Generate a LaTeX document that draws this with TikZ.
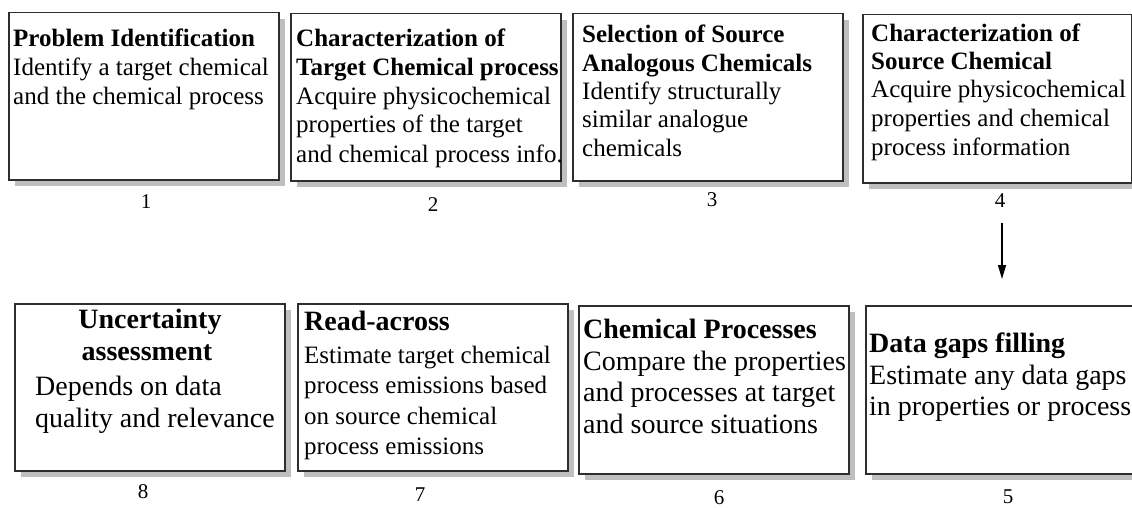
\documentclass[tikz,border=0pt]{standalone}
\usepackage{fontspec}
\setmainfont{Liberation Serif}
\usetikzlibrary{arrows.meta,shadows}
\begin{document}
\begin{tikzpicture}[x=1pt,y=-1pt,
  stepbox/.style={draw=black!82, line width=1.5pt, fill=white, anchor=north west,
    inner sep=0pt, minimum width=270pt, minimum height=167pt,
    drop shadow={shadow xshift=6pt, shadow yshift=-6pt, fill=black!25, opacity=1}},
  tsmall/.style={font=\fontsize{25}{29}\selectfont, anchor=base west, inner sep=0pt},
  bsmall/.style={font=\fontsize{25}{29}\selectfont\bfseries, anchor=base west, inner sep=0pt},
  tbig/.style={font=\fontsize{28}{32}\selectfont, anchor=base west, inner sep=0pt},
  bbig/.style={font=\fontsize{28}{32}\selectfont\bfseries, anchor=base west, inner sep=0pt},
  numlab/.style={font=\fontsize{21}{24}\selectfont, anchor=base, inner sep=0pt},
  flow/.style={line width=1.4pt, -{Triangle[length=14pt,width=8pt]}}]
\useasboundingbox (0,0) rectangle (1132,508);
\clip (0,0) rectangle (1132,508);

% top row boxes
\node[stepbox] (b1) at (8,12) {};
\node[stepbox] (b2) at (290,13) {};
\node[stepbox] (b3) at (572,13) {};
\node[stepbox, minimum width=269pt, minimum height=168pt] (b4) at (862,14) {};
% bottom row boxes
\node[stepbox] (b8) at (14,303) {};
\node[stepbox] (b7) at (297,303) {};
\node[stepbox, minimum height=168pt] (b6) at (578,305) {};
\node[stepbox, minimum height=168pt] (b5) at (865,305) {};

% box 1
\node[bsmall] (t1a) at (13,47) {Problem Identification};
\node[tsmall] (t1b) at (13,76) {Identify a target chemical};
\node[tsmall] (t1c) at (13,105) {and the chemical process};
% box 2
\node[bsmall] (t2a) at (296,47) {Characterization of};
\node[bsmall] (t2b) at (296,76) {Target Chemical process};
\node[tsmall] (t2c) at (296,105) {Acquire physicochemical};
\node[tsmall] (t2d) at (296,133) {properties of the target};
\node[tsmall] (t2e) at (296,162) {and chemical process info.};
% box 3
\node[bsmall] (t3a) at (582,43) {Selection of Source};
\node[bsmall] (t3b) at (582,72) {Analogous Chemicals};
\node[tsmall] (t3c) at (582,100) {Identify structurally};
\node[tsmall] (t3d) at (582,128) {similar analogue};
\node[tsmall] (t3e) at (582,157) {chemicals};
% box 4
\node[bsmall] (t4a) at (871,42) {Characterization of};
\node[bsmall] (t4b) at (871,70) {Source Chemical};
\node[tsmall] (t4c) at (871,98) {Acquire physicochemical};
\node[tsmall] (t4d) at (871,127) {properties and chemical};
\node[tsmall] (t4e) at (871,155) {process information};

% box 8
\node[bbig, anchor=base] (t8a) at (150,328) {Uncertainty};
\node[bbig, anchor=base] (t8b) at (147,360) {assessment};
\node[tbig] (t8c) at (35,395) {Depends on data};
\node[tbig] (t8d) at (35,427) {quality and relevance};
% box 7
\node[bbig] (t7a) at (304,330) {Read-across};
\node[tsmall] (t7b) at (304,363) {Estimate target chemical};
\node[tsmall] (t7c) at (304,393) {process emissions based};
\node[tsmall] (t7d) at (304,424) {on source chemical};
\node[tsmall] (t7e) at (304,454) {process emissions};
% box 6
\node[bbig] (t6a) at (583,338) {Chemical Processes};
\node[tbig] (t6b) at (583,370) {Compare the properties};
\node[tbig] (t6c) at (583,401) {and processes at target};
\node[tbig] (t6d) at (583,433) {and source situations};
% box 5
\node[bbig] (t5a) at (869,352) {Data gaps filling};
\node[tbig] (t5b) at (869,384) {Estimate any data gaps};
\node[tbig] (t5c) at (869,415) {in properties or process};

% step numbers
\node[numlab] (n1) at (146,208) {1};
\node[numlab] (n2) at (433,211) {2};
\node[numlab] (n3) at (712,206) {3};
\node[numlab] (n4) at (1000,207) {4};
\node[numlab] (n8) at (143,498) {8};
\node[numlab] (n7) at (420,501) {7};
\node[numlab] (n6) at (719,504) {6};
\node[numlab] (n5) at (1008,503) {5};

% arrow
\coordinate (a1) at (1002,223);
\coordinate (a2) at (1002,279);
\draw[flow] (a1) -- (a2);
\end{tikzpicture}
\end{document}
